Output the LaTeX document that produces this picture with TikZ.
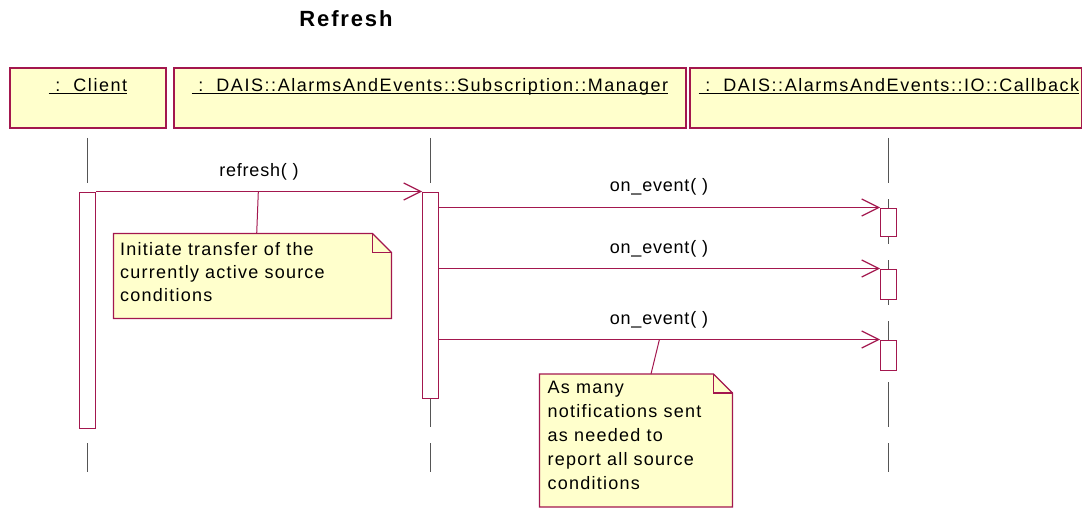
\documentclass[tikz,border=0pt]{standalone}
\usepackage{fontspec}
\setmainfont{Liberation Sans}
\newfontfamily\lblfont[LetterSpace=8.6]{Liberation Sans}
\newfontfamily\notefont[LetterSpace=6.8]{Liberation Sans}
\newfontfamily\msgfont[LetterSpace=4.4]{Liberation Sans}
\newfontfamily\ttlfont[LetterSpace=8.5]{Liberation Sans}
\usetikzlibrary{arrows.meta}
\definecolor{rose}{HTML}{A3174E}
\definecolor{paper}{HTML}{FFFFCC}
\definecolor{life}{HTML}{555555}
\tikzset{
  objbox/.style={draw=rose, fill=paper, line width=1.1pt},
  lifeline/.style={draw=life, line width=1.1pt, dash pattern=on 45pt off 16pt},
  actbox/.style={draw=rose, fill=white, line width=1pt, minimum width=16pt, inner sep=0pt},
  msg/.style={draw=rose, line width=1pt, -{Straight Barb[length=17pt,width=17pt,line width=1.2pt]}},
  msglbl/.style={font=\msgfont\fontsize{18pt}{21pt}\selectfont, anchor=base, inner sep=0pt},
  objlbl/.style={font=\lblfont\fontsize{18pt}{21pt}\selectfont, anchor=base, inner sep=0pt},
  notebox/.style={draw=rose, fill=paper, line width=1.1pt, line join=miter},
  notetxt/.style={font=\notefont\fontsize{18pt}{23.5pt}\selectfont, anchor=base west, inner sep=0pt, align=left},
  notelink/.style={draw=rose, line width=1pt},
  uline/.style={draw=black, line width=1.1pt}
}
\begin{document}
\begin{tikzpicture}[x=1pt,y=-1pt]
\useasboundingbox (0,0) rectangle (1082,508);
% title
\node[font=\ttlfont\bfseries\fontsize{22pt}{26pt}\selectfont, anchor=base, inner sep=0pt] (title) at (346,27) {Refresh};
% object boxes
\draw[objbox] (10,68) rectangle (166,128);
\draw[objbox] (174,68) rectangle (686,128);
\draw[objbox] (690,68) rectangle (1081.4,128);
\node[objlbl] (lc) at (88,92) {\ :\ \ Client};
\node[objlbl] (lm) at (430,92) {\ :\ \ DAIS::AlarmsAndEvents::Subscription::Manager};
\node[objlbl] (lb) at (889,92) {\ :\ \ DAIS::AlarmsAndEvents::IO::Callback};
\draw[uline] ([yshift=-1.6pt]lc.base west) -- ([yshift=-1.6pt]lc.base east);
\draw[uline] ([yshift=-1.6pt]lm.base west) -- ([yshift=-1.6pt]lm.base east);
\draw[uline] ([yshift=-1.6pt]lb.base west) -- ([yshift=-1.6pt]lb.base east);
% lifelines
\coordinate (c0) at (87.5,138);  \coordinate (c1) at (87.5,472);
\coordinate (m0) at (430.5,138); \coordinate (m1) at (430.5,472);
\coordinate (b0) at (888.5,138); \coordinate (b1) at (888.5,472);
\draw[lifeline] (c0) -- (c1);
\draw[lifeline] (m0) -- (m1);
\draw[lifeline] (b0) -- (b1);
% activations
\node[actbox, minimum height=236pt] (ac) at (87.5,310) {};
\node[actbox, minimum height=206pt] (am) at (430.5,295) {};
\node[actbox, minimum height=28pt] (ab1) at (888.5,222) {};
\node[actbox, minimum height=30pt] (ab2) at (888.5,284) {};
\node[actbox, minimum height=30pt] (ab3) at (888.5,355) {};
% messages
\draw[msg] (ac.north east) -- (am.north west);
\draw[msg] (am.east |- ab1.north) -- (ab1.north west);
\draw[msg] (am.east |- ab2.north) -- (ab2.north west);
\draw[msg] (am.east |- ab3.north) -- (ab3.north west);
\node[msglbl] (l0) at (259,177) {refresh(\ )};
\node[msglbl] (l1) at (659,192) {on\_event(\ )};
\node[msglbl] (l2) at (659,253) {on\_event(\ )};
\node[msglbl] (l3) at (659,324) {on\_event(\ )};
% note 1
\draw[notebox] (113.5,233.5) -- (372.5,233.5) -- (391.5,252.5) -- (391.5,318.5) -- (113.5,318.5) -- cycle;
\draw[notebox, fill=none] (372.5,233.5) -- (372.5,252.5) -- (391.5,252.5);
\node[notetxt] (n1) at (120,255) {\vtop{\baselineskip=23.4pt\hbox{Initiate transfer of the}\hbox{currently active source}\hbox{conditions}}};
\coordinate (n1a) at (258.3,192);
\coordinate (n1b) at (256.7,233.5);
\draw[notelink] (n1a) -- (n1b);
% note 2
\draw[notebox] (539.5,374) -- (713.5,374) -- (732.5,393) -- (732.5,507) -- (539.5,507) -- cycle;
\draw[notebox, fill=none] (713.5,374) -- (713.5,393) -- (732.5,393);
\node[notetxt] (n2) at (547.5,393.5) {\vtop{\baselineskip=24pt\hbox{As many}\hbox{notifications sent}\hbox{as needed to}\hbox{report all source}\hbox{conditions}}};
\coordinate (n2a) at (659.3,340);
\coordinate (n2b) at (651,374);
\draw[notelink] (n2a) -- (n2b);
\end{tikzpicture}
\end{document}
